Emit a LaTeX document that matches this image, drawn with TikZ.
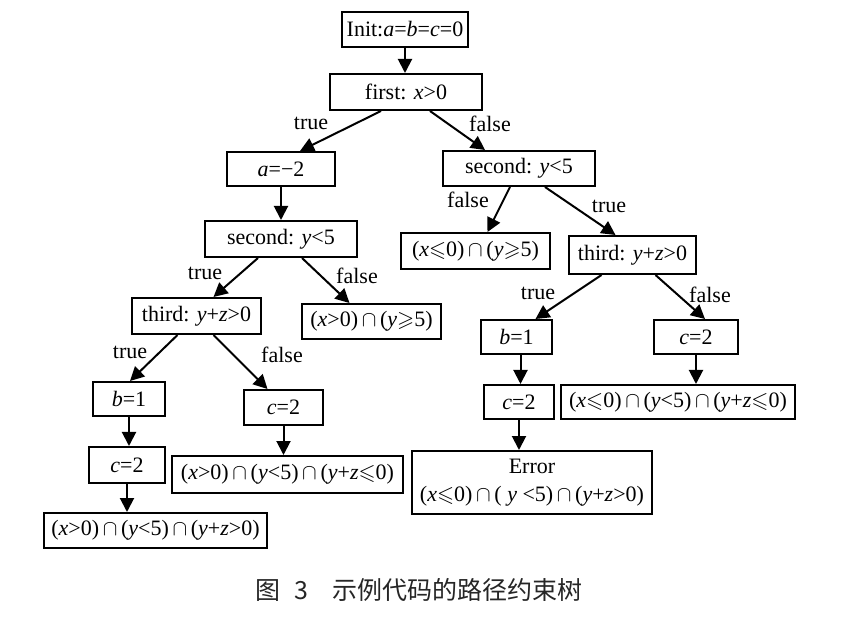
\documentclass[tikz,border=0pt]{standalone}
\usepackage{fontspec}
\usepackage{amssymb}
\setmainfont{Liberation Serif}
\newfontfamily\cjkfont{Noto Sans CJK SC}
\usetikzlibrary{arrows.meta}
\newcommand{\mi}[1]{\textit{#1}}
\newcommand{\ct}{\,$\cap$\,}
\newcommand{\myleq}{$\leqslant$}
\newcommand{\mygeq}{$\geqslant$}
\begin{document}
\begin{tikzpicture}[x=0.5pt,y=-0.5pt,
  box/.style={draw, line width=1pt, inner sep=0pt, font=\fontsize{11}{13}\selectfont},
  lbl/.style={inner sep=0pt, font=\fontsize{11}{13}\selectfont},
  arr/.style={line width=1pt, -{Triangle[length=7pt,width=7pt]}}]
\useasboundingbox[fill=white] (0,0) rectangle (852,620);
% nodes
\node[box, minimum width=63pt, minimum height=17.5pt] (init) at (405,29.5) {Init:\mi{a}=\mi{b}=\mi{c}=0};
\node[box, minimum width=76pt, minimum height=18pt] (first) at (406,92) {first: \mi{x}>0};
\node[box, minimum width=54pt, minimum height=17pt] (aa) at (281,169) {\mi{a}=\textminus2};
\node[box, minimum width=76pt, minimum height=18pt] (secL) at (281,239) {second: \mi{y}<5};
\node[box, minimum width=64.5pt, minimum height=18pt] (thirdL) at (196.5,316) {third: \mi{y}+\mi{z}>0};
\node[box, minimum width=69.5pt, minimum height=17.5pt] (leafA) at (371.5,321.5) {(\mi{x}>0)\ct(\mi{y}\mygeq5)};
\node[box, minimum width=36pt, minimum height=17pt] (bL) at (129,399) {\mi{b}=1};
\node[box, minimum width=39.5pt, minimum height=17.5pt] (cF) at (283.5,407.5) {\mi{c}=2};
\node[box, minimum width=38pt, minimum height=18pt] (cL) at (127,465) {\mi{c}=2};
\node[box, minimum width=115.5pt, minimum height=18.5pt] (leafB) at (287.5,474.5) {(\mi{x}>0)\ct(\mi{y}<5)\ct(\mi{y}+\mi{z}\myleq0)};
\node[box, minimum width=111.5pt, minimum height=17.5pt] (leafC) at (155.5,530.5) {(\mi{x}>0)\ct(\mi{y}<5)\ct(\mi{y}+\mi{z}>0)};
\node[box, minimum width=76pt, minimum height=17.5pt] (secR) at (519,168.5) {second: \mi{y}<5};
\node[box, minimum width=74.5pt, minimum height=18pt] (leafD) at (475.5,251) {(\mi{x}\myleq0)\ct(\mi{y}\mygeq5)};
\node[box, minimum width=63.5pt, minimum height=19pt] (thirdR) at (632.5,255) {third: \mi{y}+\mi{z}>0};
\node[box, minimum width=35.5pt, minimum height=17pt] (bR) at (516.5,337) {\mi{b}=1};
\node[box, minimum width=42pt, minimum height=17pt] (cR) at (696,337) {\mi{c}=2};
\node[box, minimum width=35pt, minimum height=17pt] (cR2) at (519,402) {\mi{c}=2};
\node[box, minimum width=117pt, minimum height=17pt] (leafE) at (678,402) {(\mi{x}\myleq0)\ct(\mi{y}<5)\ct(\mi{y}+\mi{z}\myleq0)};
\node[box, minimum width=120pt, minimum height=31.5pt, align=center] (err) at (532,482.5) {Error\\[1pt](\mi{x}\myleq0)\ct( \mi{y} <5)\ct(\mi{y}+\mi{z}>0)};
% edges
\draw[arr] (init.south) -- (init.south |- first.north);
\draw[arr] ([xshift=-12.5pt]first.south) -- ([xshift=9.5pt]aa.north);
\draw[arr] ([xshift=12pt]first.south) -- ([xshift=-17pt]secR.north);
\draw[arr] (aa.south) -- (aa.south |- secL.north);
\draw[arr] ([xshift=-11.5pt]secL.south) -- ([xshift=8.5pt]thirdL.north);
\draw[arr] ([xshift=10.5pt]secL.south) -- ([xshift=-11pt]leafA.north);
\draw[arr] ([xshift=-9.5pt]thirdL.south) -- ([xshift=0.5pt]bL.north);
\draw[arr] ([xshift=8.5pt]thirdL.south) -- ([xshift=-8pt]cF.north);
\draw[arr] (bL.south) -- (bL.south |- cL.north);
\draw[arr] (cL.south) -- (cL.south |- leafC.north);
\draw[arr] (cF.south) -- (cF.south |- leafB.north);
\draw[arr] ([xshift=-4.5pt]secR.south) -- ([xshift=6pt]leafD.north);
\draw[arr] ([xshift=13pt]secR.south) -- ([xshift=-8.5pt]thirdR.north);
\draw[arr] ([xshift=-15.5pt]thirdR.south) -- ([xshift=9.5pt]bR.north);
\draw[arr] ([xshift=11.5pt]thirdR.south) -- ([xshift=4.5pt]cR.north);
\draw[arr] ([xshift=2pt]bR.south) -- ([xshift=2pt]bR.south |- cR2.north);
\draw[arr] (cR2.south) -- (cR2.south |- err.north);
\draw[arr] (cR.south) -- (cR.south |- leafE.north);
% labels
\node[lbl] (l1) at (311,123) {true};
\node[lbl] (l2) at (490,124) {false};
\node[lbl] (l3) at (205,273) {true};
\node[lbl] (l4) at (357,276) {false};
\node[lbl] (l5) at (130,352) {true};
\node[lbl] (l6) at (282,355) {false};
\node[lbl] (l7) at (468,200) {false};
\node[lbl] (l8) at (609,206) {true};
\node[lbl] (l9) at (538,293) {true};
\node[lbl] (l10) at (710,295) {false};
% caption
\node[inner sep=0pt, text=black!85, font=\cjkfont\fontsize{12.5}{14}\selectfont] (cap) at (419,590) {图\hspace{7pt}3\hspace{12pt}示例代码的路径约束树};
\end{tikzpicture}
\end{document}
